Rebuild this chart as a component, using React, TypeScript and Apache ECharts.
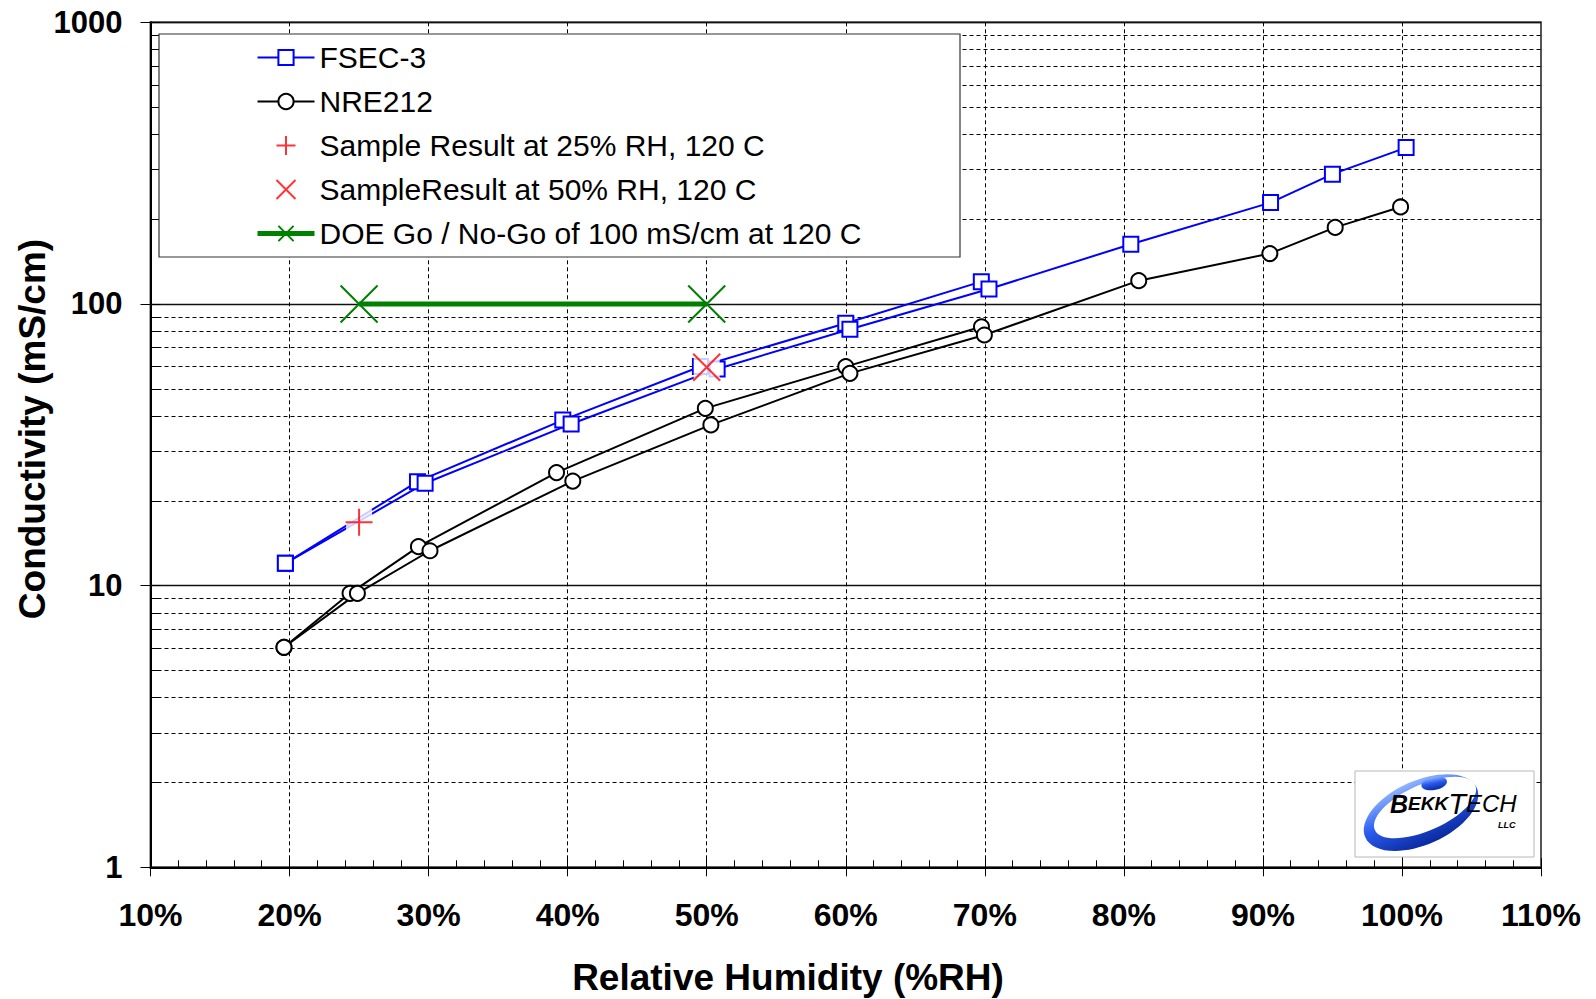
import React, { useEffect, useRef } from 'react';
import * as echarts from 'echarts';

// ---- data ----
const fsecA_rh = [19.7, 29.2, 39.65, 49.55, 60.0, 69.75];
const fsecA_cond = [12.0, 23.4, 38.7, 60.0, 85.4, 120];
const fsecB_rh = [19.7, 29.75, 40.25, 50.75, 60.3, 70.3, 80.5, 90.55, 95.0, 100.3];
const fsecB_cond = [12.0, 23.1, 37.5, 58.8, 81.3, 113, 163, 229, 289, 359];
const nreA_rh = [19.6, 24.35, 29.27, 39.2, 49.9, 60.0, 69.76];
const nreA_cond = [6.04, 9.39, 13.75, 25.2, 42.6, 59.9, 83.0];
const nreB_rh = [19.6, 24.88, 30.1, 40.37, 50.3, 60.3, 69.97, 81.07, 90.5, 95.2, 99.9];
const nreB_cond = [6.04, 9.39, 13.3, 23.5, 37.2, 56.7, 77.6, 121, 151, 187, 221];
const sample25 = [25, 16.8];
const sample50 = [50, 59.6];
const doe_rh = [25, 50];
const doe_cond = [100, 100];

const yMinorTicks = [2, 3, 4, 5, 6, 7, 8, 9, 20, 30, 40, 50, 60, 70, 80, 90, 200, 300, 400, 500, 600, 700, 800, 900];

const NAME_FSEC = 'FSEC-3';
const NAME_NRE = 'NRE212';
const NAME_S25 = 'Sample Result at 25% RH, 120 C';
const NAME_S50 = 'SampleResult at 50% RH, 120 C';
const NAME_DOE = 'DOE Go / No-Go of 100 mS/cm at 120 C';

const X_TITLE = 'Relative Humidity (%RH)';
const Y_TITLE = 'Conductivity (mS/cm)';

const pts = (xs: number[], ys: number[]) => xs.map((x, i) => [x, ys[i]]);

const FONT = '"Liberation Sans", Arial, sans-serif';
const BLUE = '#0000ff';
const GREEN = '#008000';
const RED = '#ff0000';
const PLUS = 'path://M10,0L10,20M0,10L20,10';
const CROSS = 'path://M0,0L20,20M0,20L20,0';

const GRID = { left: 150.5, top: 22.3, width: 1390.5, height: 845 };

function buildOption(): any {
  const fsecStyle = {
    type: 'line',
    name: NAME_FSEC,
    symbol: 'rect',
    symbolSize: 15,
    itemStyle: { color: '#fff', borderColor: BLUE, borderWidth: 2 },
    lineStyle: { color: BLUE, width: 2 },
    z: 2,
  };
  const nreStyle = {
    type: 'line',
    name: NAME_NRE,
    symbol: 'circle',
    symbolSize: 15,
    itemStyle: { color: '#fff', borderColor: '#000', borderWidth: 2 },
    lineStyle: { color: '#000', width: 2 },
    z: 2,
  };
  const logoGrad = new echarts.graphic.LinearGradient(0, 0, 0, 1, [
    { offset: 0, color: '#8fb4ff' },
    { offset: 0.45, color: '#2a5cf0' },
    { offset: 1, color: '#0a2a9e' },
  ]);
  return {
    animation: false,
    backgroundColor: '#fff',
    textStyle: { fontFamily: FONT },
    grid: { ...GRID, show: true, borderColor: '#555', borderWidth: 2, backgroundColor: 'transparent' },
    legend: {
      data: [
        { name: NAME_FSEC, lineStyle: { width: 2 } },
        { name: NAME_NRE, lineStyle: { width: 2 } },
        { name: NAME_S25 },
        { name: NAME_S50 },
        { name: NAME_DOE, lineStyle: { width: 5 } },
      ],
      orient: 'vertical',
      left: 255,
      top: 42.5,
      padding: 0,
      itemWidth: 57,
      itemHeight: 19,
      itemGap: 14,
      selectedMode: false,
      z: 6,
      textStyle: { fontSize: 30, lineHeight: 30, color: '#000', fontFamily: FONT },
    },
    xAxis: [
      {
        type: 'value',
        min: 10,
        max: 110,
        interval: 10,
        position: 'bottom',
        axisLine: { show: true, onZero: false, lineStyle: { color: '#000', width: 2 } },
        axisTick: { show: true, inside: false, length: 9, lineStyle: { color: '#000', width: 1 } },
        axisLabel: {
          formatter: (v: number) => `${Math.round(v)}%`,
          fontSize: 32,
          fontWeight: 'bold',
          color: '#000',
          fontFamily: FONT,
          margin: 48,
          verticalAlign: 'middle',
        },
        splitLine: { show: true, showMinLine: false, showMaxLine: false, lineStyle: { color: '#000', width: 1, type: [4, 3] } },
      },
      {
        type: 'value',
        min: 10,
        max: 110,
        interval: 10,
        position: 'bottom',
        axisLine: { show: false },
        axisLabel: { show: false },
        splitLine: { show: false },
        axisTick: { show: true, inside: true, length: 9, lineStyle: { color: '#000', width: 1 } },
        minorTick: { show: true, splitNumber: 5, length: 7, lineStyle: { color: '#000', width: 1 } },
      },
    ],
    yAxis: [
      {
        type: 'log',
        logBase: 10,
        min: 1,
        max: 1000,
        axisLine: { show: true, onZero: false, lineStyle: { color: '#000', width: 2 } },
        axisTick: { show: true, inside: false, length: 10, lineStyle: { color: '#000', width: 1 } },
        axisLabel: {
          formatter: (v: number) => String(Math.round(v)),
          fontSize: 31,
          fontWeight: 'bold',
          color: '#000',
          fontFamily: FONT,
          margin: 28,
        },
        splitLine: { show: true, lineStyle: { color: '#111', width: 1.3, type: 'solid' } },
      },
      {
        type: 'log',
        logBase: 10,
        min: 1,
        max: 1000,
        position: 'left',
        axisLine: { show: false },
        axisLabel: { show: false },
        splitLine: { show: false },
        axisTick: { show: true, inside: true, length: 10, lineStyle: { color: '#000', width: 1 } },
      },
    ],
    series: [
      {
        type: 'scatter',
        name: 'minor-grid',
        data: [],
        z: 1,
        silent: true,
        markLine: {
          z: 1,
          silent: true,
          symbol: ['none', 'none'],
          label: { show: false },
          animation: false,
          lineStyle: { color: '#000', width: 1, type: [4, 3] },
          data: yMinorTicks.map((v) => ({ yAxis: v })),
        },
      },
      {
        type: 'scatter',
        name: 'minor-ticks',
        data: [],
        z: 1,
        silent: true,
        markLine: {
          z: 1,
          silent: true,
          symbol: ['none', 'none'],
          label: { show: false },
          animation: false,
          lineStyle: { color: '#000', width: 1, type: 'solid' },
          data: yMinorTicks.map((v) => [{ coord: [10, v] }, { coord: [10.7, v] }]),
        },
      },
      { ...fsecStyle, data: pts(fsecA_rh, fsecA_cond) },
      { ...fsecStyle, data: pts(fsecB_rh, fsecB_cond) },
      { ...nreStyle, data: pts(nreA_rh, nreA_cond) },
      { ...nreStyle, data: pts(nreB_rh, nreB_cond) },
      {
        type: 'line',
        name: NAME_DOE,
        data: pts(doe_rh, doe_cond),
        symbol: CROSS,
        symbolSize: 37,
        itemStyle: { color: GREEN, borderColor: GREEN, borderWidth: 2 },
        lineStyle: { color: GREEN, width: 5 },
        z: 3,
      },
      {
        type: 'scatter',
        name: 'marker-backdrop',
        data: [sample25, sample50],
        symbol: 'rect',
        symbolSize: 26,
        itemStyle: { color: '#fff', borderWidth: 0 },
        silent: true,
        z: 3,
      },
      {
        type: 'scatter',
        name: NAME_S25,
        data: [sample25],
        symbol: PLUS,
        symbolSize: 27,
        itemStyle: { color: RED, borderColor: RED, borderWidth: 2 },
        z: 4,
      },
      {
        type: 'scatter',
        name: NAME_S50,
        data: [sample50],
        symbol: CROSS,
        symbolSize: 27,
        itemStyle: { color: RED, borderColor: RED, borderWidth: 2 },
        z: 4,
      },
    ],
    graphic: [
      {
        type: 'rect',
        z: 5,
        shape: { x: 159, y: 34, width: 801, height: 223 },
        style: { fill: '#fff', stroke: '#333', lineWidth: 1.2 },
      },
      {
        type: 'text',
        z: 5,
        x: 788,
        y: 977,
        style: { text: X_TITLE, fontSize: 37, fontWeight: 'bold', fontFamily: FONT, fill: '#000', align: 'center', verticalAlign: 'middle' },
      },
      {
        type: 'text',
        z: 5,
        x: 32,
        y: 429,
        rotation: Math.PI / 2,
        style: { text: Y_TITLE, fontSize: 37, fontWeight: 'bold', fontFamily: FONT, fill: '#000', align: 'center', verticalAlign: 'middle' },
      },
      {
        type: 'group',
        z: 5,
        children: [
          {
            type: 'rect',
            z: 5,
            shape: { x: 1355, y: 771, width: 179, height: 86 },
            style: { fill: '#fff', stroke: '#b8b8b8', lineWidth: 1 },
          },
          {
            type: 'ellipse',
            z: 6,
            originX: 1421,
            originY: 813,
            rotation: 0.42,
            shape: { cx: 1421, cy: 813, rx: 61, ry: 32 },
            style: { fill: logoGrad },
          },
          {
            type: 'ellipse',
            z: 7,
            originX: 1425,
            originY: 808,
            rotation: 0.42,
            shape: { cx: 1425, cy: 808, rx: 55, ry: 23 },
            style: { fill: '#fff' },
          },
          {
            type: 'ellipse',
            z: 7,
            originX: 1434,
            originY: 784,
            rotation: 0.2,
            shape: { cx: 1434, cy: 784, rx: 13, ry: 6.5 },
            style: { fill: logoGrad },
          },
          {
            type: 'text',
            z: 8,
            x: 1390,
            y: 818,
            style: {
              text: '{b1|B}{b2|EKK}{t1|T}{t2|ECH}',
              verticalAlign: 'bottom',
              rich: {
                b1: { fontSize: 25, fontWeight: 'bold', fontStyle: 'italic', fontFamily: FONT, fill: '#000' },
                b2: { fontSize: 19, fontWeight: 'bold', fontStyle: 'italic', fontFamily: FONT, fill: '#000' },
                t1: { fontSize: 29, fontStyle: 'italic', fontFamily: FONT, fill: '#000' },
                t2: { fontSize: 24, fontStyle: 'italic', fontFamily: FONT, fill: '#000' },
              },
            },
          },
          {
            type: 'text',
            z: 8,
            x: 1498,
            y: 825,
            style: { text: 'LLC', fontSize: 9, fontWeight: 'bold', fontStyle: 'italic', fontFamily: FONT, fill: '#000', verticalAlign: 'middle' },
          },
        ],
      },
    ],
  };
}

export default function App() {
  const ref = useRef<HTMLDivElement>(null);
  useEffect(() => {
    if (!ref.current) return;
    const chart = echarts.init(ref.current, null, { renderer: 'svg' });
    chart.setOption(buildOption());
    return () => chart.dispose();
  }, []);
  return (
    <div
      ref={ref}
      style={{ position: 'fixed', left: 0, top: 0, width: 1596, height: 999, background: '#fff' }}
    />
  );
}
